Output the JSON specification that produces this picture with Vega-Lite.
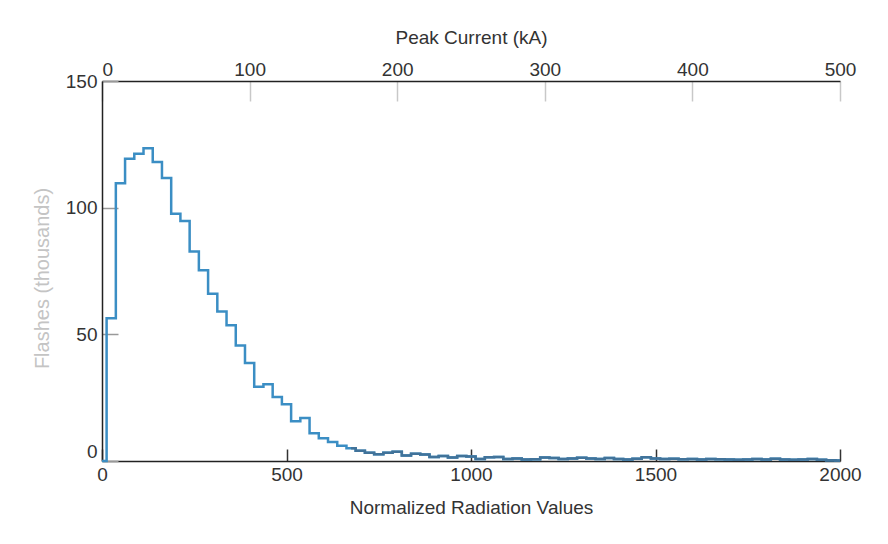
{
  "$schema": "https://vega.github.io/schema/vega-lite/v6.json",
  "width": 738,
  "height": 380,
  "autosize": "none",
  "padding": {"left": 102, "top": 81, "right": 48, "bottom": 83},
  "background": "white",
  "config": {"font": "Liberation Sans", "view": {"stroke": null}, "axis": {"grid": false}},
  "datasets": {
    "hist": [
      {"x": 0, "flashes": 0},
      {"x": 25, "flashes": 56.3},
      {"x": 50, "flashes": 109.6},
      {"x": 75, "flashes": 119.3},
      {"x": 100, "flashes": 121.3},
      {"x": 125, "flashes": 123.5},
      {"x": 150, "flashes": 118},
      {"x": 175, "flashes": 111.7},
      {"x": 200, "flashes": 97.6},
      {"x": 225, "flashes": 94.7},
      {"x": 250, "flashes": 82.7},
      {"x": 275, "flashes": 75.3},
      {"x": 300, "flashes": 66},
      {"x": 325, "flashes": 59},
      {"x": 350, "flashes": 53.6},
      {"x": 375, "flashes": 45.6},
      {"x": 400, "flashes": 38.7},
      {"x": 425, "flashes": 29.3},
      {"x": 450, "flashes": 30.3},
      {"x": 475, "flashes": 25.3},
      {"x": 500, "flashes": 22.4},
      {"x": 525, "flashes": 15.7},
      {"x": 550, "flashes": 17},
      {"x": 575, "flashes": 11},
      {"x": 600, "flashes": 9},
      {"x": 625, "flashes": 7.5},
      {"x": 650, "flashes": 6},
      {"x": 675, "flashes": 5},
      {"x": 700, "flashes": 4},
      {"x": 725, "flashes": 3.3},
      {"x": 750, "flashes": 2.7},
      {"x": 775, "flashes": 3.3},
      {"x": 800, "flashes": 3.7},
      {"x": 825, "flashes": 2.2},
      {"x": 850, "flashes": 2.9},
      {"x": 875, "flashes": 2.6},
      {"x": 900, "flashes": 1.6},
      {"x": 925, "flashes": 2.0},
      {"x": 950, "flashes": 1.4},
      {"x": 975, "flashes": 2.0},
      {"x": 1000, "flashes": 1.8},
      {"x": 1025, "flashes": 0.8},
      {"x": 1050, "flashes": 1.5},
      {"x": 1075, "flashes": 1.6},
      {"x": 1100, "flashes": 0.8},
      {"x": 1125, "flashes": 1.0},
      {"x": 1150, "flashes": 0.6},
      {"x": 1175, "flashes": 0.7},
      {"x": 1200, "flashes": 1.4},
      {"x": 1225, "flashes": 1.2},
      {"x": 1250, "flashes": 0.8},
      {"x": 1275, "flashes": 1.0},
      {"x": 1300, "flashes": 1.3},
      {"x": 1325, "flashes": 1.0},
      {"x": 1350, "flashes": 0.8},
      {"x": 1375, "flashes": 1.2},
      {"x": 1400, "flashes": 0.8},
      {"x": 1425, "flashes": 0.6},
      {"x": 1450, "flashes": 0.9},
      {"x": 1475, "flashes": 1.5},
      {"x": 1500, "flashes": 1.0},
      {"x": 1525, "flashes": 0.8},
      {"x": 1550, "flashes": 0.9},
      {"x": 1575, "flashes": 0.7},
      {"x": 1600, "flashes": 0.8},
      {"x": 1625, "flashes": 0.6},
      {"x": 1650, "flashes": 0.8},
      {"x": 1675, "flashes": 0.7},
      {"x": 1700, "flashes": 0.6},
      {"x": 1725, "flashes": 0.5},
      {"x": 1750, "flashes": 0.6},
      {"x": 1775, "flashes": 0.8},
      {"x": 1800, "flashes": 0.6},
      {"x": 1825, "flashes": 0.9},
      {"x": 1850, "flashes": 0.6},
      {"x": 1875, "flashes": 0.5},
      {"x": 1900, "flashes": 0.6},
      {"x": 1925, "flashes": 0.8},
      {"x": 1950, "flashes": 0.5},
      {"x": 1975, "flashes": 0.3},
      {"x": 2000, "flashes": 0.2}
    ],
    "top": [{"kA": 0}, {"kA": 500}]
  },
  "layer": [
    {
      "data": {"name": "hist"},
      "encoding": {
        "x": {
          "field": "x", "type": "quantitative",
          "scale": {"domain": [0, 2000], "nice": false, "zero": false},
          "axis": {
            "orient": "bottom", "title": "Normalized Radiation Values",
            "values": [0, 500, 1000, 1500, 2000], "format": "d",
            "domainColor": "#222", "domainWidth": 1.5,
            "tickColor": "#333", "tickSize": -12, "tickWidth": 1.5,
            "labelFontSize": 19, "labelColor": "#333", "labelPadding": 16, "labelFlush": false,
            "titleFontSize": 19, "titleFontWeight": "normal", "titleColor": "#333",
            "titleBaseline": "middle", "titleY": 46
          }
        },
        "y": {
          "field": "flashes", "type": "quantitative",
          "scale": {"domain": [0, 150], "nice": false},
          "axis": {
            "orient": "left", "title": "Flashes (thousands)",
            "values": [0, 50, 100, 150], "format": "d",
            "domainColor": "#222", "domainWidth": 1.5,
            "tickColor": "#999", "tickSize": -16, "tickWidth": 1.5,
            "labelFontSize": 19, "labelColor": "#333", "labelPadding": 21, "labelFlush": false,
            "labelBaseline": {"condition": {"test": "datum.value === 0", "value": "bottom"}, "value": "middle"},
            "titleFontSize": 20, "titleFontWeight": "normal", "titleColor": "#c4c4c4",
            "titleBaseline": "middle", "titleX": -60, "titleY": 197, "titleAngle": -90
          }
        }
      },
      "layer": [
        {"mark": {"type": "line", "interpolate": "step", "color": "#3b8ec4", "strokeWidth": 2.5}},
        {"transform": [{"filter": "datum.x >= 675"}],
         "mark": {"type": "line", "interpolate": "step", "color": "#41739a", "strokeWidth": 2.5}}
      ]
    },
    {
      "data": {"name": "top"},
      "mark": {"type": "point", "opacity": 0},
      "encoding": {
        "x": {
          "field": "kA", "type": "quantitative",
          "scale": {"domain": [0, 500], "nice": false, "zero": false},
          "axis": {
            "orient": "top", "title": "Peak Current (kA)",
            "values": [0, 100, 200, 300, 400, 500], "format": "d",
            "domainColor": "#222", "domainWidth": 1.5,
            "tickColor": "#c8c8c8", "tickSize": -20, "tickWidth": 1.5,
            "labelFontSize": 19, "labelColor": "#333", "labelPadding": 22, "labelFlush": false,
            "labelAlign": {"condition": {"test": "datum.value === 0", "value": "left"}, "value": "center"},
            "titleFontSize": 19, "titleFontWeight": "normal", "titleColor": "#333",
            "titleBaseline": "middle", "titleY": -44
          }
        }
      }
    }
  ],
  "resolve": {"scale": {"x": "independent"}, "axis": {"x": "independent"}}
}
